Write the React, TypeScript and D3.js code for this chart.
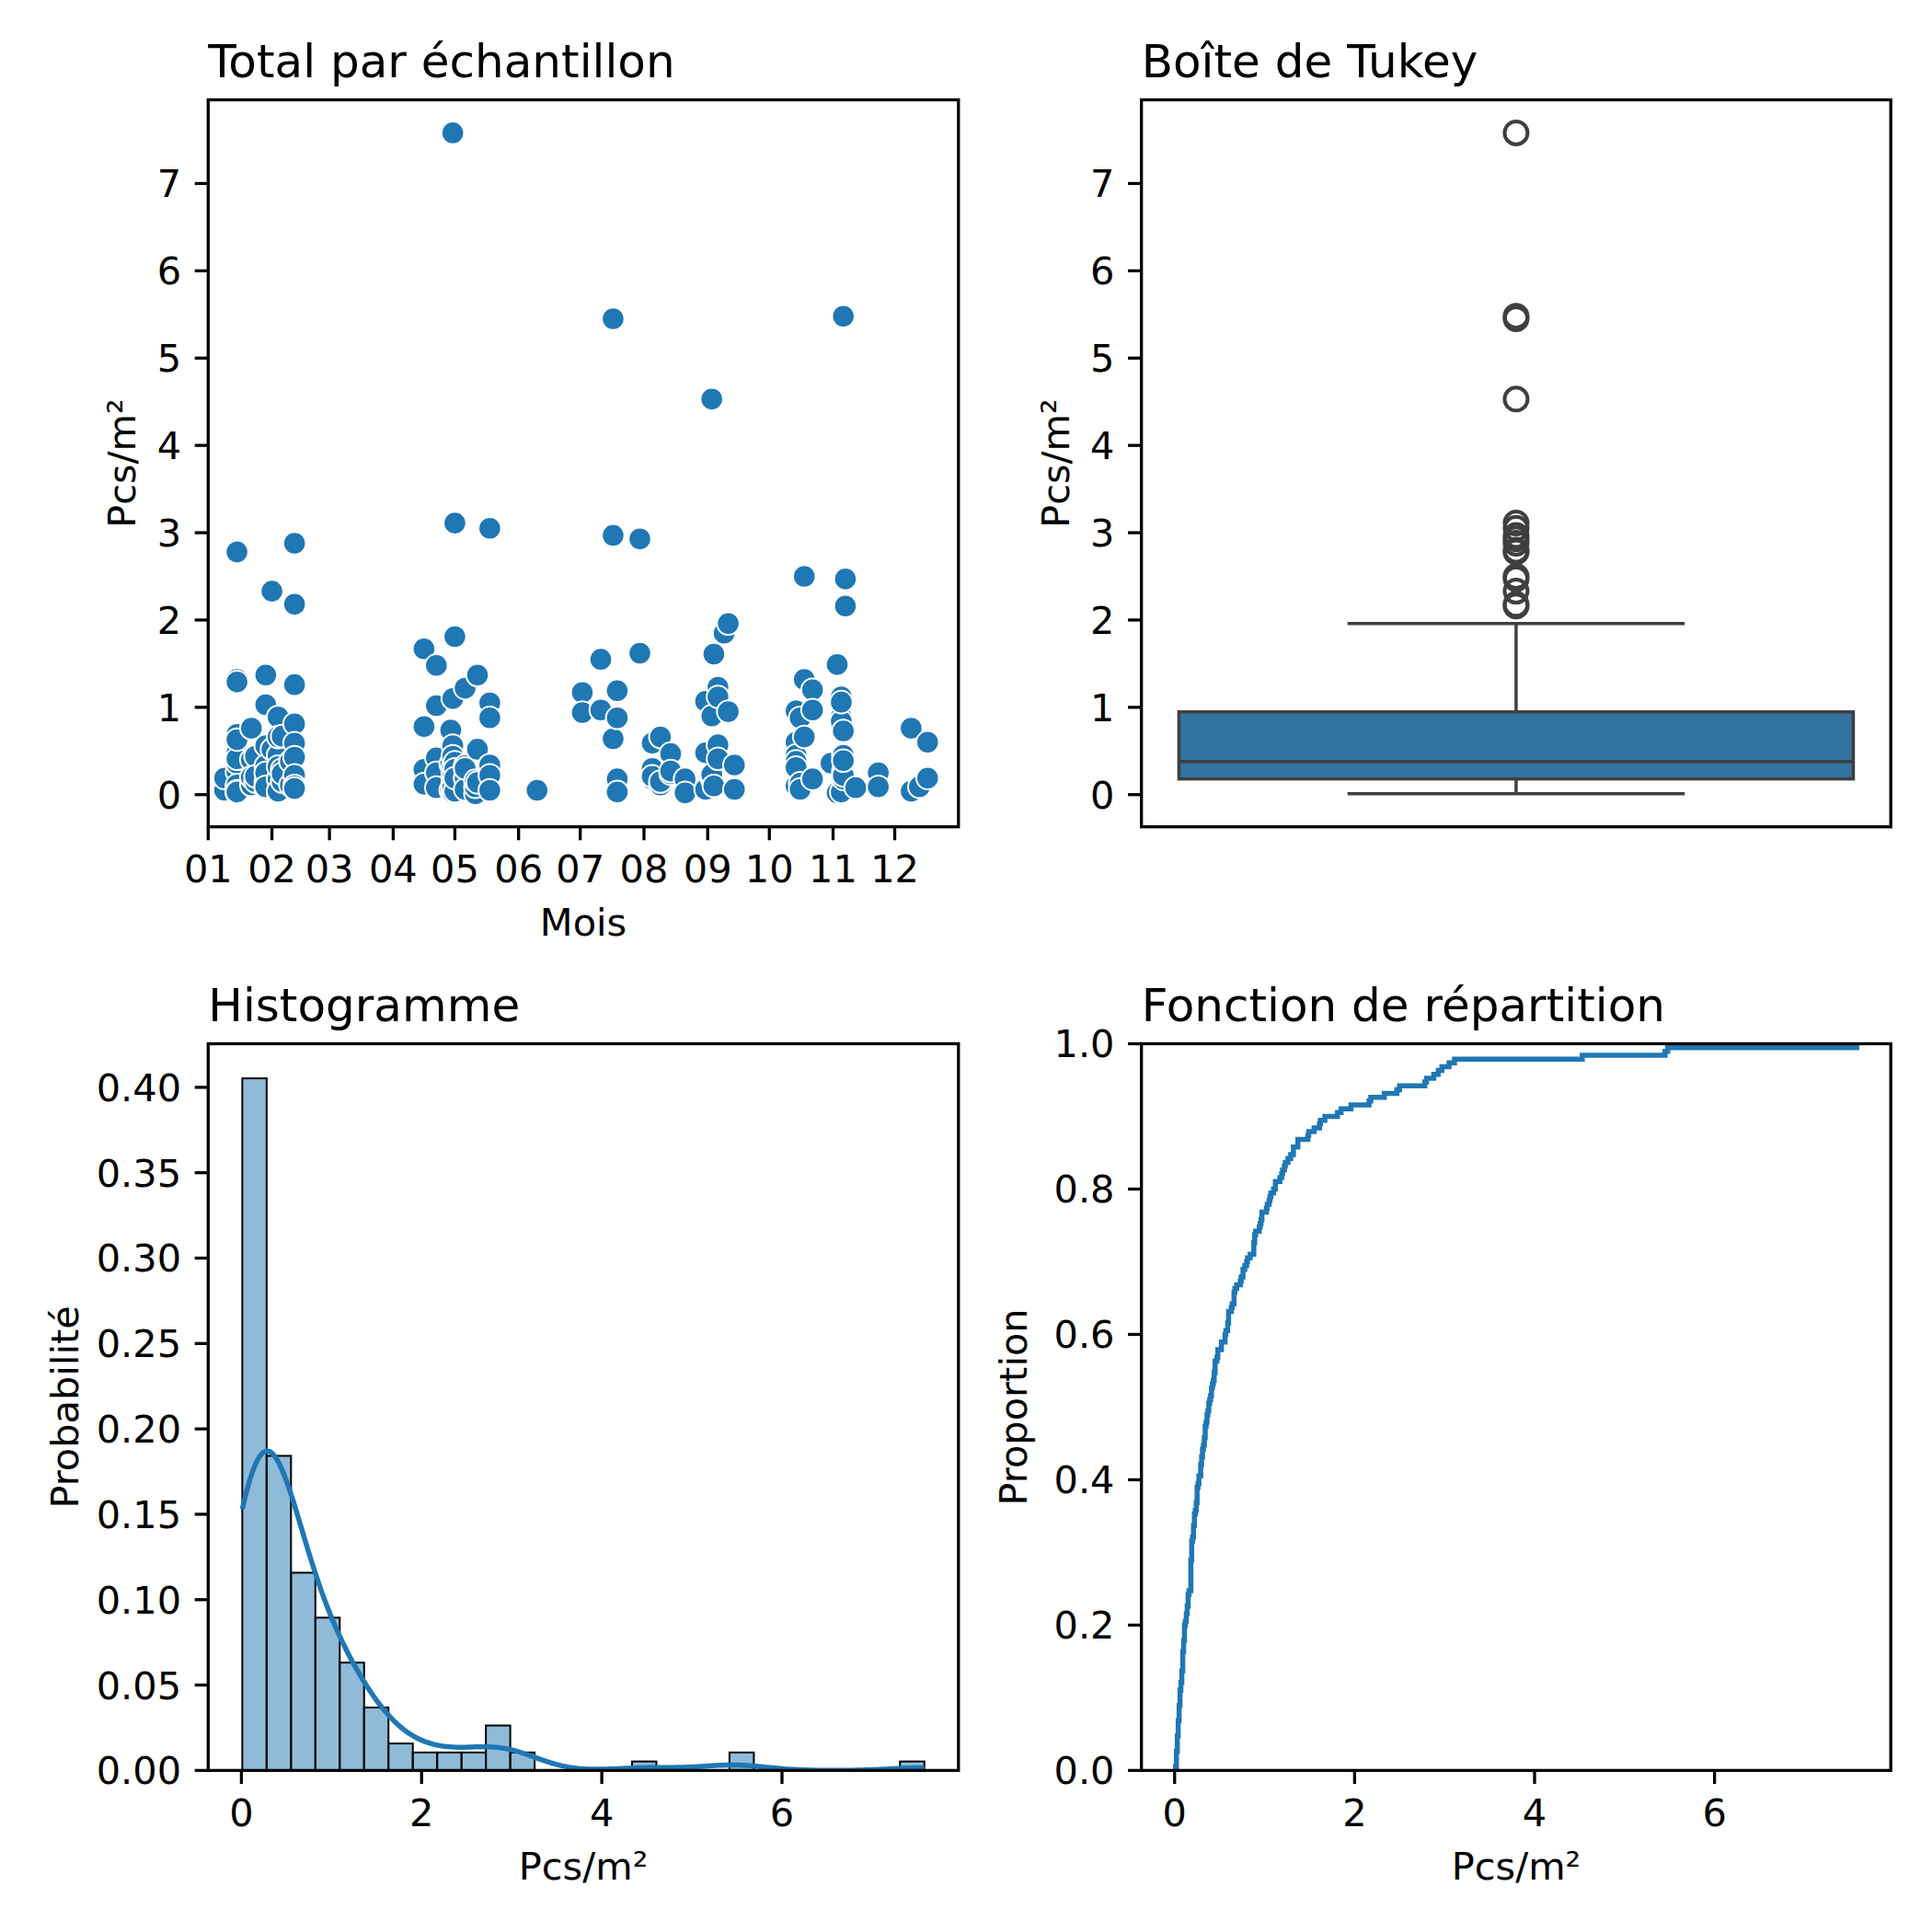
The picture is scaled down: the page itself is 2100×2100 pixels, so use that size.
import * as d3 from 'd3'

// one column of samples per survey date (Pcs/m²)
const surveyDates = [
  '2021-01-09', '2021-01-15', '2021-01-22', '2021-01-24', '2021-01-29',
  '2021-02-01', '2021-02-04', '2021-02-06', '2021-02-10', '2021-02-12',
  '2021-04-16', '2021-04-22', '2021-04-29', '2021-04-30', '2021-05-01',
  '2021-05-06', '2021-05-11', '2021-05-12', '2021-05-18', '2021-06-10',
  '2021-07-02', '2021-07-11', '2021-07-17', '2021-07-19', '2021-07-30',
  '2021-08-05', '2021-08-09', '2021-08-14', '2021-08-21', '2021-08-31',
  '2021-09-03', '2021-09-04', '2021-09-06', '2021-09-09', '2021-09-11',
  '2021-09-14', '2021-10-14', '2021-10-16', '2021-10-18', '2021-10-22',
  '2021-10-31', '2021-11-03', '2021-11-05', '2021-11-06', '2021-11-07',
  '2021-11-12', '2021-11-23', '2021-12-09', '2021-12-13', '2021-12-17',
]

const surveyValues = [
  [0.18, 0.05, 0.19],
  [2.8, 2.78, 1.32, 1.29, 0.69, 0.6, 0.48, 0.26, 0.09, 0.02, 0.36, 0.11, 0.04, 0.03, 0.41, 0.63],
  [0.76, 0.4, 0.11, 0.2],
  [0.44, 0.15, 0.21],
  [1.37, 1.03, 0.56, 0.14, 0.33, 0.07, 0.25, 0.09],
  [2.33, 0.52],
  [0.89, 0.45, 0.02, 0.18, 0.66, 0.04, 0.32],
  [0.67, 0.15, 0.29, 0.24],
  [0.11, 0.38],
  [2.88, 2.18, 1.26, 0.81, 0.59, 0.43, 0.22, 0.1, 0.07],
  [1.67, 0.78, 0.29, 0.12],
  [1.48, 1.02, 0.42, 0.25, 0.08],
  [0.74, 0.05, 0.35],
  [7.58, 1.1, 0.56, 0.25, 0.31, 0.18, 0.21, 0.13, 0.03, 0.08, 0.44],
  [3.11, 1.81, 0.37, 0.29, 0.04, 0.19],
  [1.22, 0.19, 0.06, 0.33, 0.3],
  [0.01, 0.09, 0.16],
  [1.37, 0.52, 0.14],
  [3.05, 1.05, 0.88, 0.34, 0.22, 0.05],
  [0.05],
  [1.17, 0.94],
  [1.55, 0.97],
  [5.45, 2.97, 0.64],
  [1.19, 0.88, 0.18, 0.03],
  [2.93, 1.62],
  [0.59, 0.3, 0.18, 0.21],
  [0.66, 0.11, 0.15],
  [0.47, 0.24, 0.27],
  [0.18, 0.02],
  [1.07, 0.48, 0.06],
  [4.53, 0.9, 0.19, 0.23],
  [1.61, 0.1],
  [1.23, 0.57, 0.41, 1.12],
  [1.85],
  [1.96, 0.95],
  [0.34, 0.06],
  [0.96, 0.6, 0.45, 0.34, 0.38, 0.1, 0.31],
  [0.88, 0.13, 0.06],
  [2.5, 1.32, 0.66],
  [1.2, 0.97, 0.18],
  [0.36],
  [1.49, 0.02],
  [1.12, 0.89, 0.8, 0.84, 0.03, 1.06],
  [5.48, 0.73, 0.45, 0.18, 0.27, 0.22, 0.39],
  [2.47, 2.16],
  [0.08],
  [0.25, 0.09],
  [0.76, 0.04],
  [0.09],
  [0.6, 0.19],
]

const monthLabels = ['01', '02', '03', '04', '05', '06', '07', '08', '09', '10', '11', '12']
const valueTicks = [0, 1, 2, 3, 4, 5, 6, 7]
const distTicks = [0, 2, 4, 6]
const probTicks = [0, 0.05, 0.1, 0.15, 0.2, 0.25, 0.3, 0.35, 0.4]
const propTicks = [0, 0.2, 0.4, 0.6, 0.8, 1.0]
const histBinCount = 28

const FONT = 'DejaVu Sans, sans-serif'
const BLUE = '#1f77b4'
const BOX_FILL = '#3274a1'
const BOX_LINE = '#3f3f3f'
const TICK = 14.6
const PAD = 14.6
const FS = 41.5
const TITLE_FS = 50
const SPINE = 3.3

const parse = d3.timeParse('%Y-%m-%d')
const samples = surveyDates.flatMap((d, i) =>
  surveyValues[i].map(v => ({ date: parse(d) as Date, value: v }))
)
const values = samples.map(s => s.value)
const sorted = values.slice().sort(d3.ascending)
const n = values.length
const vmin = sorted[0]
const vmax = sorted[n - 1]
const pad5 = (vmax - vmin) * 0.05
const valueDomain: [number, number] = [vmin - pad5, vmax + pad5]

type Box = { x0: number; x1: number; y0: number; y1: number }
const TL: Box = { x0: 226.3, x1: 1041.8, y0: 108.5, y1: 898.7 }
const TR: Box = { x0: 1240.7, x1: 2055.2, y0: 108.5, y1: 898.7 }
const BL: Box = { x0: 226.3, x1: 1041.8, y0: 1134.5, y1: 1924.4 }
const BR: Box = { x0: 1240.7, x1: 2055.2, y0: 1134.5, y1: 1924.4 }

function YAxis({ box, scale, ticks, fmt, label, labelX }: {
  box: Box; scale: (v: number) => number; ticks: number[]; fmt: (v: number) => string; label: string; labelX: number
}) {
  return (
    <g>
      {ticks.map(t => (
        <g key={t}>
          <line x1={box.x0 - TICK} x2={box.x0} y1={scale(t)} y2={scale(t)} stroke="#000" strokeWidth={SPINE} />
          <text x={box.x0 - TICK - PAD} y={scale(t) + FS * 0.36} textAnchor="end" fontSize={FS}>{fmt(t)}</text>
        </g>
      ))}
      <text transform={`translate(${labelX},${(box.y0 + box.y1) / 2}) rotate(-90)`} textAnchor="middle" fontSize={FS}>{label}</text>
    </g>
  )
}

function XAxis({ box, ticks, label }: { box: Box; ticks: { x: number; text: string }[]; label?: string }) {
  return (
    <g>
      {ticks.map(t => (
        <g key={t.text}>
          <line x1={t.x} x2={t.x} y1={box.y1} y2={box.y1 + TICK} stroke="#000" strokeWidth={SPINE} />
          <text x={t.x} y={box.y1 + 60.7} textAnchor="middle" fontSize={FS}>{t.text}</text>
        </g>
      ))}
      {label && <text x={(box.x0 + box.x1) / 2} y={box.y1 + 118.5} textAnchor="middle" fontSize={FS}>{label}</text>}
    </g>
  )
}

function Frame({ box, title }: { box: Box; title: string }) {
  return (
    <g>
      <rect x={box.x0} y={box.y0} width={box.x1 - box.x0} height={box.y1 - box.y0} fill="none" stroke="#000" strokeWidth={SPINE} />
      <text x={box.x0} y={box.y0 - 25} fontSize={TITLE_FS}>{title}</text>
    </g>
  )
}

function ScatterPanel() {
  const x = d3.scaleTime().domain([new Date(2021, 0, 1), new Date(2022, 0, 1)]).range([TL.x0, TL.x1])
  const y = d3.scaleLinear().domain(valueDomain).range([TL.y1, TL.y0])
  const ticks = monthLabels.map((m, i) => ({ x: x(new Date(2021, i, 1)), text: m }))
  return (
    <g>
      <g clipPath="url(#clip-tl)">
        {samples.map((s, i) => (
          <circle key={i} cx={x(s.date)} cy={y(s.value)} r={12.3} fill={BLUE} stroke="#fff" strokeWidth={2} />
        ))}
      </g>
      <YAxis box={TL} scale={y} ticks={valueTicks} fmt={d3.format('d')} label="Pcs/m²" labelX={147} />
      <XAxis box={TL} ticks={ticks} label="Mois" />
      <Frame box={TL} title="Total par échantillon" />
    </g>
  )
}

function BoxPanel() {
  const x = d3.scaleLinear().domain([-0.5, 0.5]).range([TR.x0, TR.x1])
  const y = d3.scaleLinear().domain(valueDomain).range([TR.y1, TR.y0])
  const q1 = d3.quantile(sorted, 0.25) as number
  const med = d3.quantile(sorted, 0.5) as number
  const q3 = d3.quantile(sorted, 0.75) as number
  const iqr = q3 - q1
  const hiWhisk = d3.max(sorted.filter(v => v <= q3 + 1.5 * iqr)) as number
  const loWhisk = d3.min(sorted.filter(v => v >= q1 - 1.5 * iqr)) as number
  const outliers = sorted.filter(v => v > hiWhisk || v < loWhisk)
  const lw = 3.5
  return (
    <g>
      <line x1={x(0)} x2={x(0)} y1={y(q3)} y2={y(hiWhisk)} stroke={BOX_LINE} strokeWidth={lw} />
      <line x1={x(0)} x2={x(0)} y1={y(q1)} y2={y(loWhisk)} stroke={BOX_LINE} strokeWidth={lw} />
      <line x1={x(-0.225)} x2={x(0.225)} y1={y(hiWhisk)} y2={y(hiWhisk)} stroke={BOX_LINE} strokeWidth={lw} />
      <line x1={x(-0.225)} x2={x(0.225)} y1={y(loWhisk)} y2={y(loWhisk)} stroke={BOX_LINE} strokeWidth={lw} />
      <rect x={x(-0.45)} y={y(q3)} width={x(0.45) - x(-0.45)} height={y(q1) - y(q3)} fill={BOX_FILL} stroke={BOX_LINE} strokeWidth={lw} />
      <line x1={x(-0.45)} x2={x(0.45)} y1={y(med)} y2={y(med)} stroke={BOX_LINE} strokeWidth={lw} />
      {outliers.map((v, i) => (
        <circle key={i} cx={x(0)} cy={y(v)} r={12.5} fill="none" stroke={BOX_LINE} strokeWidth={4} />
      ))}
      <YAxis box={TR} scale={y} ticks={valueTicks} fmt={d3.format('d')} label="Pcs/m²" labelX={1162} />
      <Frame box={TR} title="Boîte de Tukey" />
    </g>
  )
}

function HistPanel() {
  const binWidth = (vmax - vmin) / histBinCount
  const thresholds = d3.range(1, histBinCount).map(i => vmin + i * binWidth)
  const bins = d3.bin().domain([vmin, vmax]).thresholds(thresholds)(values)
  const probs = bins.map(b => b.length / n)
  const x = d3.scaleLinear().domain(valueDomain).range([BL.x0, BL.x1])
  const y = d3.scaleLinear().domain([0, (d3.max(probs) as number) * 1.05]).range([BL.y1, BL.y0])

  // gaussian kde, scott bandwidth, scaled to bar heights
  const bw = (d3.deviation(values) as number) * Math.pow(n, -1 / 5)
  const grid = d3.range(200).map(i => vmin + ((vmax - vmin) * i) / 199)
  const kde = grid.map(g => {
    const dens = (d3.mean(values, v => Math.exp(-0.5 * ((g - v) / bw) ** 2)) as number) / (bw * Math.sqrt(2 * Math.PI))
    return [g, dens * binWidth] as [number, number]
  })
  const line = d3.line<[number, number]>().x(d => x(d[0])).y(d => y(d[1]))

  return (
    <g>
      {bins.map((b, i) =>
        b.length > 0 ? (
          <rect key={i} x={x(b.x0 as number)} y={y(probs[i])} width={x(b.x1 as number) - x(b.x0 as number)}
            height={y(0) - y(probs[i])} fill="rgba(31,119,180,0.5)" stroke="#000" strokeWidth={2} />
        ) : null
      )}
      <path d={line(kde) as string} fill="none" stroke={BLUE} strokeWidth={5.5} clipPath="url(#clip-bl)" />
      <YAxis box={BL} scale={y} ticks={probTicks} fmt={d3.format('.2f')} label="Probabilité" labelX={85} />
      <XAxis box={BL} ticks={distTicks.map(t => ({ x: x(t), text: String(t) }))} label="Pcs/m²" />
      <Frame box={BL} title="Histogramme" />
    </g>
  )
}

function EcdfPanel() {
  const x = d3.scaleLinear().domain(valueDomain).range([BR.x0, BR.x1])
  const y = d3.scaleLinear().domain([0, 1]).range([BR.y1, BR.y0])
  const pts: [number, number][] = [[sorted[0], 0], ...sorted.map((v, i) => [v, (i + 1) / n] as [number, number])]
  const line = d3.line<[number, number]>().x(d => x(d[0])).y(d => y(d[1])).curve(d3.curveStepAfter)
  return (
    <g>
      <path d={line(pts) as string} fill="none" stroke={BLUE} strokeWidth={5.5} clipPath="url(#clip-br)" />
      <YAxis box={BR} scale={y} ticks={propTicks} fmt={d3.format('.1f')} label="Proportion" labelX={1116} />
      <XAxis box={BR} ticks={distTicks.map(t => ({ x: x(t), text: String(t) }))} label="Pcs/m²" />
      <Frame box={BR} title="Fonction de répartition" />
    </g>
  )
}

export default function App() {
  const clips: [string, Box][] = [['tl', TL], ['bl', BL], ['br', BR]]
  return (
    <svg width={2100} height={2100} style={{ position: 'absolute', left: 0, top: 0 }} fontFamily={FONT} fill="#000">
      <defs>
        {clips.map(([id, b]) => (
          <clipPath key={id} id={`clip-${id}`}>
            <rect x={b.x0} y={b.y0} width={b.x1 - b.x0} height={b.y1 - b.y0} />
          </clipPath>
        ))}
      </defs>
      <rect width={2100} height={2100} fill="#fff" />
      <ScatterPanel />
      <BoxPanel />
      <HistPanel />
      <EcdfPanel />
    </svg>
  )
}
